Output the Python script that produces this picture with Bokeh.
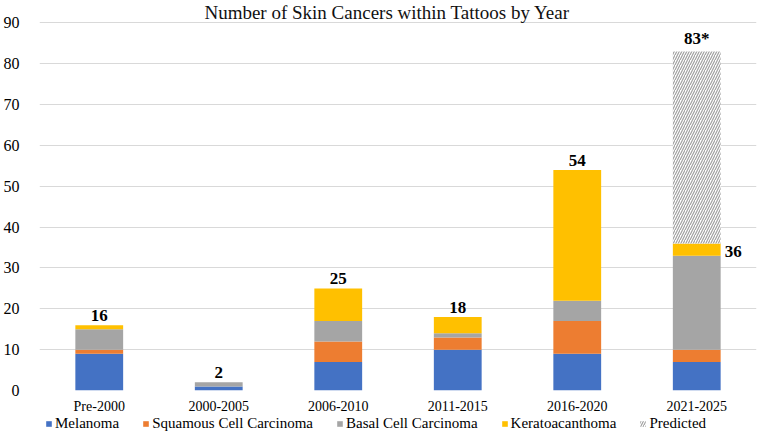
from bokeh.plotting import figure
from bokeh.layouts import column
from bokeh.models import ColumnDataSource, FactorRange, Range1d, Legend, LegendItem, FixedTicker
from bokeh.transform import dodge
from bokeh.core.properties import value
from bokeh.embed import file_html
from bokeh.resources import INLINE

# ---- data ----
periods = ["Pre-2000", "2000-2005", "2006-2010", "2011-2015", "2016-2020", "2021-2025"]
melanoma = [9, 1, 7, 10, 9, 7]
squamous = [1, 0, 5, 3, 8, 3]
basal = [5, 1, 5, 1, 5, 23]
kerato = [1, 0, 8, 4, 32, 3]
predicted_extra = [0, 0, 0, 0, 0, 47]
series_names = ["Melanoma", "Squamous Cell Carcinoma", "Basal Cell Carcinoma", "Keratoacanthoma"]
predicted_name = "Predicted"
colors = ["#4472C4", "#ED7D31", "#A5A5A5", "#FFC000"]
title_text = "Number of Skin Cancers within Tattoos by Year"
y_ticks = list(range(0, 100, 10))

FONT = "Liberation Serif"
HATCH = dict(fill_color="white", line_color=None, hatch_pattern="/",
             hatch_color="#A0A0A0", hatch_scale=5, hatch_weight=1.2)

totals = [m + s + b + k for m, s, b, k in zip(melanoma, squamous, basal, kerato)]

src = ColumnDataSource(dict(period=periods, mel=melanoma, sq=squamous, bcc=basal, ka=kerato))

p = figure(x_range=FactorRange(factors=periods, range_padding=0),
           y_range=Range1d(0, 95.5),
           width=757, height=416, output_backend="svg", toolbar_location=None,
           min_border_left=36, min_border_right=1, min_border_top=0, min_border_bottom=0)

bars = p.vbar_stack(["mel", "sq", "bcc", "ka"], x="period", width=0.4, color=colors,
                    line_color=None, source=src)

# predicted (hatched) segment
pp = [i for i, v in enumerate(predicted_extra) if v > 0]
psrc = ColumnDataSource(dict(period=[periods[i] for i in pp],
                             bottom=[totals[i] for i in pp],
                             top=[totals[i] + predicted_extra[i] for i in pp]))
p.vbar(x="period", bottom="bottom", top="top", width=0.4, source=psrc, **HATCH)

LBL = dict(text_font=value(FONT), text_font_style="bold", text_font_size="17px",
           text_color="black")
# value labels above bars
top_idx = [i for i in range(len(periods)) if predicted_extra[i] == 0]
lsrc = ColumnDataSource(dict(period=[periods[i] for i in top_idx],
                             y=[totals[i] for i in top_idx],
                             t=[str(totals[i]) for i in top_idx]))
p.text(x="period", y="y", text="t", source=lsrc, text_align="center", text_baseline="bottom",
       y_offset=-4, **LBL)
# predicted: total above, actual total to the right
psrc2 = ColumnDataSource(dict(period=[periods[i] for i in pp],
                              y=[totals[i] + predicted_extra[i] for i in pp],
                              t=[str(totals[i] + predicted_extra[i]) + "*" for i in pp],
                              y2=[totals[i] for i in pp],
                              t2=[str(totals[i]) for i in pp]))
p.text(x="period", y="y", text="t", source=psrc2, text_align="center", text_baseline="bottom",
       y_offset=-4, **LBL)
p.text(x=dodge("period", 0.2, range=p.x_range), y="y2", text="t2", source=psrc2,
       text_align="left", text_baseline="middle", x_offset=4, y_offset=8, **LBL)

# title drawn inside top of the frame
tsrc = ColumnDataSource(dict(x=[periods[2]], y=[92.6], t=[title_text]))
p.text(x=dodge("x", 0.41, range=p.x_range), y="y", text="t", source=tsrc,
       text_align="center", text_baseline="middle", text_font=value(FONT),
       text_font_size="19px", text_color="#111111")

# axes / grid
p.xgrid.grid_line_color = None
p.ygrid.grid_line_color = "#D9D9D9"
p.ygrid.ticker = FixedTicker(ticks=y_ticks)
p.yaxis.ticker = FixedTicker(ticks=y_ticks)
p.outline_line_color = None
for ax in (p.xaxis[0], p.yaxis[0]):
    ax.axis_line_color = None
    ax.major_tick_line_color = None
    ax.minor_tick_line_color = None
    ax.major_label_text_font = FONT
    ax.major_label_text_color = "black"
p.xaxis.major_label_text_font_size = "14px"
p.yaxis.major_label_text_font_size = "16px"
p.yaxis.major_label_standoff = 14
p.xaxis.major_label_standoff = 2

# ---- legend in its own strip ----
q = figure(width=757, height=16, output_backend="svg", toolbar_location=None,
           x_range=Range1d(0, 1), y_range=Range1d(0, 1),
           x_axis_location=None, y_axis_location=None, min_border=0)
q.grid.visible = False
q.outline_line_color = None
# legend-only renderers, kept outside the visible range
leg_r = [q.vbar(x=[-5], top=[-5], bottom=[-6], width=0.1, fill_color=c, line_color=None)
         for c in colors]
leg_p = q.vbar(x=[-5], top=[-5], bottom=[-6], width=0.1, **HATCH)
items = [LegendItem(label=n, renderers=[r]) for n, r in zip(series_names, leg_r)]
items.append(LegendItem(label=predicted_name, renderers=[leg_p]))
legend = Legend(items=items, orientation="horizontal", location=(6, 0),
                glyph_width=7, glyph_height=7, label_standoff=3, spacing=23,
                padding=0, margin=0, border_line_color=None, background_fill_alpha=0,
                label_text_font=FONT, label_text_font_size="15px", label_text_color="black")
q.add_layout(legend)

open("out.html", "w").write(file_html(column(p, q), INLINE))
